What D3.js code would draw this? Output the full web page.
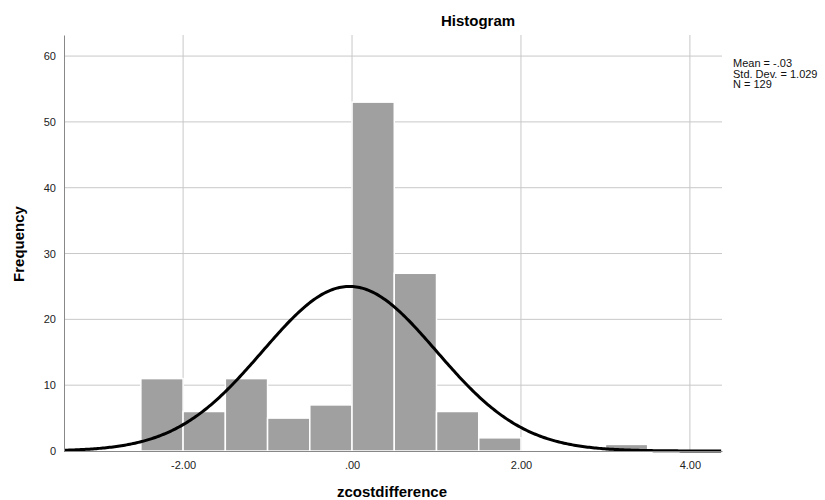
<!DOCTYPE html>
<html>
<head>
<meta charset="utf-8">
<script src="https://cdn.jsdelivr.net/npm/d3@7"></script>
<style>
  body { margin: 0; background: #fff; overflow: hidden; }
  text { font-family: "Liberation Sans", Arial, sans-serif; }
</style>
</head>
<body>
<div id="canvas"></div>
<script>
// bins of zcostdifference (width .5) and their counts
const binStarts = [-2.5, -2.0, -1.5, -1.0, -0.5, 0.0, 0.5, 1.0, 1.5, 3.0];
const counts = [11, 6, 11, 5, 7, 53, 27, 6, 2, 1];
const binWidth = 0.5;
const xTicks = [-2, 0, 2, 4];
const xTickLabels = ["-2.00", ".00", "2.00", "4.00"];
const yTicks = [0, 10, 20, 30, 40, 50, 60];
const stats = { mean: -0.03, sd: 1.029, n: 129 };
const statLines = ["Mean = -.03", "Std. Dev. = 1.029", "N = 129"];

const width = 825;
const height = 500;
const margin = { top: 35, left: 64, bottom: 49, right: 103 };
const iwidth = width - margin.left - margin.right;
const iheight = height - margin.top - margin.bottom;

const svg = d3.select("#canvas").append("svg")
  .attr("width", width)
  .attr("height", height);

const g = svg.append("g").attr("transform", `translate(${margin.left},${margin.top})`);

const x = d3.scaleLinear().domain([-3.41, 4.38]).range([0, iwidth]);
const y = d3.scaleLinear().domain([0, 63.2]).range([iheight, 0]);

// grid
g.selectAll(".hgrid").data(yTicks.filter((d) => d > 0)).enter().append("line")
  .attr("x1", 0).attr("x2", iwidth)
  .attr("y1", (d) => y(d)).attr("y2", (d) => y(d))
  .attr("stroke", "#c8c8c8").attr("stroke-width", 1);

g.selectAll(".vgrid").data(xTicks).enter().append("line")
  .attr("x1", (d) => x(d)).attr("x2", (d) => x(d))
  .attr("y1", 0).attr("y2", iheight)
  .attr("stroke", "#c8c8c8").attr("stroke-width", 1);

// bars
g.selectAll("rect").data(binStarts).enter().append("rect")
  .attr("x", (d) => x(d))
  .attr("y", (d, i) => y(counts[i]))
  .attr("width", (d) => x(d + binWidth) - x(d))
  .attr("height", (d, i) => iheight - y(counts[i]))
  .attr("fill", "#a0a0a0")
  .attr("stroke", "#ffffff")
  .attr("stroke-width", 1.5);

// normal curve for the stated mean / sd
const pts = d3.range(-3.41, 4.381, 0.02).map((v) => {
  const z = (v - stats.mean) / stats.sd;
  return [v, stats.n * binWidth / (stats.sd * Math.sqrt(2 * Math.PI)) * Math.exp(-0.5 * z * z)];
});
g.append("path")
  .datum(pts)
  .attr("fill", "none")
  .attr("stroke", "#000")
  .attr("stroke-width", 3)
  .attr("d", d3.line().x((d) => x(d[0])).y((d) => y(d[1])));

// axes
const yAxis = g.append("g").call(d3.axisLeft(y).tickValues(yTicks).tickSize(0).tickPadding(8));
yAxis.select(".domain").attr("stroke", "#888");
yAxis.selectAll("text").attr("font-size", 11).attr("fill", "#222");

const xAxis = g.append("g").attr("transform", `translate(0,${iheight})`)
  .call(d3.axisBottom(x).tickValues(xTicks).tickSize(0).tickPadding(10)
    .tickFormat((d, i) => xTickLabels[i]));
xAxis.select(".domain").attr("stroke", "#888");
xAxis.selectAll("text").attr("font-size", 11).attr("fill", "#222");

// titles
svg.append("text").attr("x", 478).attr("y", 26).attr("text-anchor", "middle")
  .attr("font-size", 15).attr("font-weight", "bold").text("Histogram");
svg.append("text").attr("transform", "translate(24,244) rotate(-90)").attr("text-anchor", "middle")
  .attr("font-size", 15).attr("font-weight", "bold").text("Frequency");
svg.append("text").attr("x", 392).attr("y", 497).attr("text-anchor", "middle")
  .attr("font-size", 15).attr("font-weight", "bold").text("zcostdifference");

svg.append("g").selectAll("text").data(statLines).enter().append("text")
  .attr("x", 733).attr("y", (d, i) => 67 + i * 10.5)
  .attr("font-size", 11).attr("fill", "#111").text((d) => d);
</script>
</body>
</html>
